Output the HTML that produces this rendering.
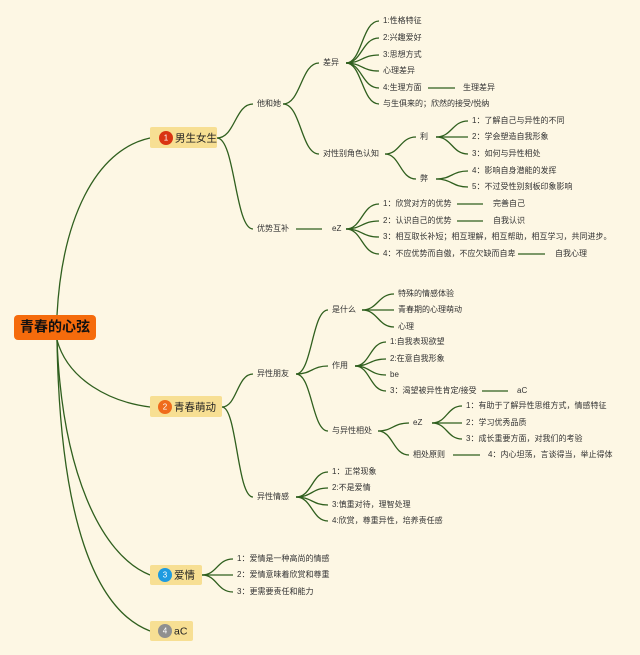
<!DOCTYPE html>
<html><head><meta charset="utf-8"><style>
html,body{margin:0;padding:0;background:#fdf7e4;}
svg{display:block;}
text{font-family:"Liberation Sans","Noto Sans CJK SC",sans-serif;font-size:8px;fill:#333;dominant-baseline:middle;}
.l1{font-size:10.5px;fill:#222;}
</style></head><body>
<svg width="640" height="655" viewBox="0 0 640 655" xmlns="http://www.w3.org/2000/svg">
<rect width="640" height="655" fill="#fdf7e4"/>
<g fill="none" stroke="#2f5f1e" stroke-width="1.3">
<path d="M57 315 C62 220 95 150 150 138"/>
<path d="M57 340 C68 380 110 402 150 407"/>
<path d="M57 340 C62 470 100 555 150 575"/>
<path d="M57 340 C60 520 95 610 150 631"/>
<path d="M217 138 C235 138 235 104 253 104"/>
<path d="M217 138 C235 138 235 229 253 229"/>
<path d="M283 104 C301 104 301 63 319 63"/>
<path d="M283 104 C301 104 301 154 319 154"/>
<path d="M346 63 C362 63 362 21 379 21"/>
<path d="M346 63 C362 63 362 38 379 38"/>
<path d="M346 63 C362 63 362 55 379 55"/>
<path d="M346 63 C362 63 362 71 379 71"/>
<path d="M346 63 C362 63 362 88 379 88"/>
<path d="M346 63 C362 63 362 104 379 104"/>
<path d="M428 88 L455 88"/>
<path d="M385 154 C400 154 400 137 416 137"/>
<path d="M385 154 C400 154 400 179 416 179"/>
<path d="M436 137 C452 137 452 121 468 121"/>
<path d="M436 137 L468 137"/>
<path d="M436 137 C452 137 452 154 468 154"/>
<path d="M436 179 C452 179 452 171 468 171"/>
<path d="M436 179 C452 179 452 187 468 187"/>
<path d="M296 229 L322 229"/>
<path d="M346 229 C362 229 362 204 379 204"/>
<path d="M346 229 C362 229 362 221 379 221"/>
<path d="M346 229 C362 229 362 237 379 237"/>
<path d="M346 229 C362 229 362 254 379 254"/>
<path d="M457 204 L483 204"/>
<path d="M457 221 L483 221"/>
<path d="M518 254 L545 254"/>
<path d="M222 407 C237 407 237 374 253 374"/>
<path d="M222 407 C237 407 237 497 253 497"/>
<path d="M296 374 C312 374 312 310 328 310"/>
<path d="M296 374 C312 374 312 366 328 366"/>
<path d="M296 374 C312 374 312 431 328 431"/>
<path d="M362 310 C378 310 378 294 394 294"/>
<path d="M362 310 L394 310"/>
<path d="M362 310 C378 310 378 327 394 327"/>
<path d="M355 366 C370 366 370 342 386 342"/>
<path d="M355 366 C370 366 370 359 386 359"/>
<path d="M355 366 C370 366 370 375 386 375"/>
<path d="M355 366 C370 366 370 391 386 391"/>
<path d="M482 391 L508 391"/>
<path d="M378 431 C393 431 393 423 409 423"/>
<path d="M378 431 C393 431 393 455 409 455"/>
<path d="M432 423 C447 423 447 406 462 406"/>
<path d="M432 423 L462 423"/>
<path d="M432 423 C447 423 447 439 462 439"/>
<path d="M453 455 L480 455"/>
<path d="M296 497 C312 497 312 472 328 472"/>
<path d="M296 497 C312 497 312 488 328 488"/>
<path d="M296 497 C312 497 312 505 328 505"/>
<path d="M296 497 C312 497 312 521 328 521"/>
<path d="M202 575 C217 575 217 559 233 559"/>
<path d="M202 575 L233 575"/>
<path d="M202 575 C217 575 217 592 233 592"/>
</g>
<rect x="14" y="315" width="82" height="25" rx="4" fill="#f56b0c"/>
<text x="55" y="328" text-anchor="middle" style="font-size:14px;font-weight:bold;fill:#111">青春的心弦</text>
<rect x="150" y="127" width="67" height="21" rx="2" fill="#f7df93"/>
<circle cx="166" cy="138" r="7" fill="#d93412"/><text x="166" y="138.5" text-anchor="middle" style="font-size:8px;fill:#fff">1</text>
<text class="l1" x="175" y="138.5">男生女生</text>
<rect x="150" y="396" width="72" height="21" rx="2" fill="#f7df93"/>
<circle cx="165" cy="407" r="7" fill="#ef6b1b"/><text x="165" y="407.5" text-anchor="middle" style="font-size:8px;fill:#fff">2</text>
<text class="l1" x="174" y="407.5">青春萌动</text>
<rect x="150" y="565" width="52" height="20" rx="2" fill="#f7df93"/>
<circle cx="165" cy="575" r="7" fill="#1e9be0"/><text x="165" y="575.5" text-anchor="middle" style="font-size:8px;fill:#fff">3</text>
<text class="l1" x="174" y="575.5">爱情</text>
<rect x="150" y="621" width="43" height="20" rx="2" fill="#f7df93"/>
<circle cx="165" cy="631" r="7" fill="#8f8f8f"/><text x="165" y="631.5" text-anchor="middle" style="font-size:8px;fill:#fff">4</text>
<text class="l1" x="174" y="631.5">aC</text>
<text x="257" y="104">他和她</text>
<text x="323" y="63">差异</text>
<text x="383" y="21">1:性格特征</text>
<text x="383" y="38">2:兴趣爱好</text>
<text x="383" y="55">3:思想方式</text>
<text x="383" y="71">心理差异</text>
<text x="383" y="88">4:生理方面</text>
<text x="463" y="88">生理差异</text>
<text x="383" y="104">与生俱来的；欣然的接受/悦纳</text>
<text x="323" y="154">对性别角色认知</text>
<text x="420" y="137">利</text>
<text x="420" y="179">弊</text>
<text x="472" y="121">1：了解自己与异性的不同</text>
<text x="472" y="137">2：学会塑造自我形象</text>
<text x="472" y="154">3：如何与异性相处</text>
<text x="472" y="171">4：影响自身潜能的发挥</text>
<text x="472" y="187">5：不过受性别刻板印象影响</text>
<text x="257" y="229">优势互补</text>
<text x="332" y="229">eZ</text>
<text x="383" y="204">1：欣赏对方的优势</text>
<text x="493" y="204">完善自己</text>
<text x="383" y="221">2：认识自己的优势</text>
<text x="493" y="221">自我认识</text>
<text x="383" y="237">3：相互取长补短；相互理解，相互帮助，相互学习，共同进步。</text>
<text x="383" y="254">4：不应优势而自傲，不应欠缺而自卑</text>
<text x="555" y="254">自我心理</text>
<text x="257" y="374">异性朋友</text>
<text x="332" y="310">是什么</text>
<text x="398" y="294">特殊的情感体验</text>
<text x="398" y="310">青春期的心理萌动</text>
<text x="398" y="327">心理</text>
<text x="332" y="366">作用</text>
<text x="390" y="342">1:自我表现欲望</text>
<text x="390" y="359">2:在意自我形象</text>
<text x="390" y="375">be</text>
<text x="390" y="391">3：渴望被异性肯定/接受</text>
<text x="517" y="391">aC</text>
<text x="332" y="431">与异性相处</text>
<text x="413" y="423">eZ</text>
<text x="466" y="406">1：有助于了解异性思维方式，情感特征</text>
<text x="466" y="423">2：学习优秀品质</text>
<text x="466" y="439">3：成长重要方面，对我们的考验</text>
<text x="413" y="455">相处原则</text>
<text x="488" y="455">4：内心坦荡，言谈得当，举止得体</text>
<text x="257" y="497">异性情感</text>
<text x="332" y="472">1：正常现象</text>
<text x="332" y="488">2:不是爱情</text>
<text x="332" y="505">3:慎重对待，理智处理</text>
<text x="332" y="521">4:欣赏，尊重异性，培养责任感</text>
<text x="237" y="559">1：爱情是一种高尚的情感</text>
<text x="237" y="575">2：爱情意味着欣赏和尊重</text>
<text x="237" y="592">3：更需要责任和能力</text>
</svg>
</body></html>
